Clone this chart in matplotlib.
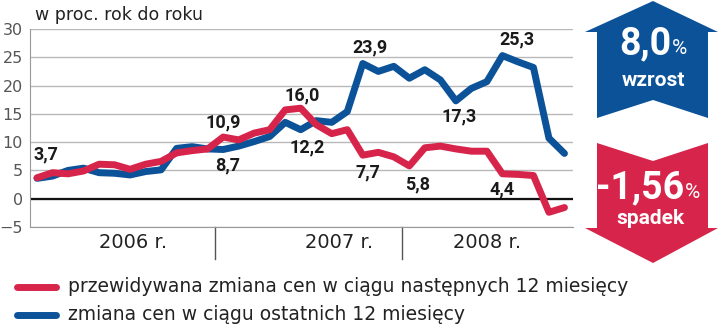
import numpy as np
import matplotlib.pyplot as plt
from matplotlib.patches import Polygon

# miesieczne dane: styczen 2006 - listopad 2008
przewidywana = [3.7, 4.6, 4.4, 4.9, 6.1, 6.0, 5.2, 6.1, 6.6, 8.1, 8.5, 8.8,
                10.9, 10.4, 11.6, 12.2, 15.7, 16.0, 13.1, 11.5, 12.2, 7.7, 8.2, 7.4,
                5.8, 9.0, 9.3, 8.8, 8.4, 8.4, 4.4, 4.3, 4.1, -2.4, -1.56]
ostatnie = [3.6, 4.0, 5.0, 5.4, 4.6, 4.5, 4.2, 4.8, 5.1, 8.9, 9.2, 8.8,
            8.7, 9.3, 10.1, 11.0, 13.5, 12.2, 13.8, 13.5, 15.4, 23.9, 22.5, 23.4,
            21.3, 22.8, 21.0, 17.3, 19.5, 20.7, 25.3, 24.2, 23.2, 10.7, 8.0]
lata = ["2006 r.", "2007 r.", "2008 r."]
lata_srodek = [6.2, 19.5, 29.0]
granice_lat = [11.5, 23.5]
etykiety_legendy = ["przewidywana zmiana cen w ciągu następnych 12 miesięcy",
                    "zmiana cen w ciągu ostatnich 12 miesięcy"]

# opisane punkty: (indeks miesiaca, przesuniecie x, y w px)
opisy_red = [(0, 9, 23), (12, 0, 15), (17, 1, 13), (21, 5, -17), (24, 8, -19), (30, 0, -16)]
opisy_blue = [(12, 4, -16), (17, 6, -18), (21, 7, 16), (27, 3, -16), (30, 15, 16)]

BLUE = "#0b5299"
RED = "#d7244b"
W, H = 720, 327

fig = plt.figure(figsize=(W / 100, H / 100), dpi=100)
ax = fig.add_axes([30 / W, (H - 227) / H, (573 - 30) / W, (227 - 29) / H])

x = np.arange(len(ostatnie))
ax.plot(x, ostatnie, color=BLUE, lw=5, solid_joinstyle="round", solid_capstyle="round", zorder=3)
ax.plot(x, przewidywana, color=RED, lw=5, solid_joinstyle="round", solid_capstyle="round", zorder=4)

ax.set_xlim(-0.45, 34.55)
ax.set_ylim(-5, 30)
ax.set_yticks(range(-5, 31, 5))
ax.set_xticks([])
ax.grid(axis="y", color="#b8b8b8", lw=1)
ax.axhline(0, color="#111111", lw=1.6, zorder=2)
for s in ["top", "right"]:
    ax.spines[s].set_visible(False)
ax.spines["left"].set_color("#999999")
ax.spines["bottom"].set_color("#999999")
ax.tick_params(axis="y", length=0, pad=5, labelsize=11.5, labelcolor="#555555")

# podzial na lata pod osia
trans = ax.get_xaxis_transform()
for g in granice_lat:
    ax.plot([g, g], [0, -0.16], transform=trans, clip_on=False, color="#555555", lw=1)
for rok, xs in zip(lata, lata_srodek):
    ax.text(xs, -0.08, rok, transform=trans, ha="center", va="center",
            fontsize=14, color="#222222")


def fmt(v):
    return f"{v:.1f}".replace(".", ",")


for seria, opisy in [(przewidywana, opisy_red), (ostatnie, opisy_blue)]:
    for i, dx, dy in opisy:
        ax.annotate(fmt(seria[i]), (i, seria[i]), xytext=(dx * 0.72, dy * 0.72),
                    textcoords="offset points", ha="center", va="center",
                    fontsize=13, fontweight="bold", color="#1a1a1a",
                    fontfamily="Roboto", zorder=6)

fig.text(35 / W, 1 - 15 / H, "w proc. rok do roku", ha="left", va="center",
         fontsize=12.5, color="#222222")

# warstwa w pikselach: strzalki i legenda
ov = fig.add_axes([0, 0, 1, 1], zorder=-1)
ov.set_xlim(0, W)
ov.set_ylim(H, 0)
ov.axis("off")

gora = [(653, 1), (718, 32), (708, 32), (708, 118), (653, 100), (597, 118), (597, 32), (585, 32)]
dol = [(597, 143), (653, 161), (708, 143), (708, 228), (718, 228), (653, 263), (585, 228), (597, 228)]
ov.add_patch(Polygon(gora, closed=True, color=BLUE, lw=0))
ov.add_patch(Polygon(dol, closed=True, color=RED, lw=0))

ov.text(671, 44, fmt(ostatnie[-1]), ha="right", va="center", fontsize=27,
        fontweight="bold", color="white", fontfamily="Roboto")
ov.text(672, 48, "%", ha="left", va="center", fontsize=15, color="white", fontfamily="Roboto")
ov.text(653, 80, "wzrost", ha="center", va="center", fontsize=15,
        fontweight="bold", color="white", fontfamily="Roboto")
ov.text(684, 188, f"{przewidywana[-1]:.2f}".replace(".", ","), ha="right", va="center",
        fontsize=27, fontweight="bold", color="white", fontfamily="Roboto")
ov.text(685, 192, "%", ha="left", va="center", fontsize=15, color="white", fontfamily="Roboto")
ov.text(650, 218, "spadek", ha="center", va="center", fontsize=15,
        fontweight="bold", color="white", fontfamily="Roboto")

for y, kolor, opis in [(287, RED, etykiety_legendy[0]), (315, BLUE, etykiety_legendy[1])]:
    ov.plot([17, 56], [y, y], color=kolor, lw=5, solid_capstyle="round")
    ov.text(68, y, opis, ha="left", va="center", fontsize=13.5, color="#222222")

fig.savefig("out.png", dpi=100)
